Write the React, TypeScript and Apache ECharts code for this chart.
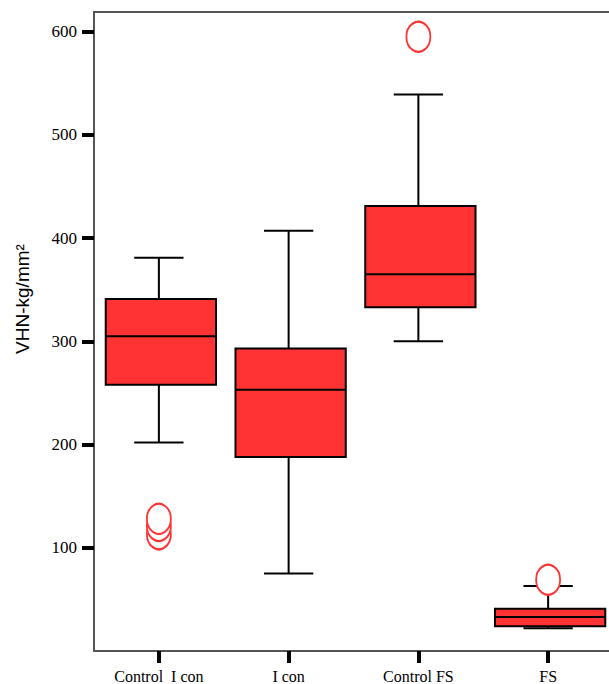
import React, { useEffect, useRef } from "react";
import * as echarts from "echarts";

const categories = ["Control  I con", "I con", "Control FS", "FS"];
const whiskerLow = [202, 75, 300, 22];
const q1 = [258, 188, 333, 24];
const median = [305, 253, 365, 33];
const q3 = [341, 293, 431, 41];
const whiskerHigh = [381, 407, 539, 63];
const outliers: [number, number][] = [
  [0, 113],
  [0, 121],
  [0, 128],
  [2, 595],
  [3, 69],
];
const yTicks = [100, 200, 300, 400, 500, 600];

export default function App() {
  const ref = useRef<HTMLDivElement>(null);
  useEffect(() => {
    const chart = echarts.init(ref.current!, null, { renderer: "svg" });
    const boxData = categories.map((_, i) => [
      i,
      whiskerLow[i],
      q1[i],
      median[i],
      q3[i],
      whiskerHigh[i],
    ]);
    chart.setOption({
      animation: false,
      grid: {
        left: 94,
        top: 12,
        right: 27,
        bottom: 32,
        show: false,
      },
      xAxis: [
        {
          type: "category",
          data: categories,
          boundaryGap: true,
          axisLine: { show: true, lineStyle: { color: "#555", width: 2 } },
          axisTick: {
            show: true,
            alignWithLabel: true,
            length: 12,
            lineStyle: { color: "#000", width: 4 },
          },
          axisLabel: {
            fontFamily: "Liberation Serif",
            fontSize: 16,
            color: "#000",
            margin: 17,
            interval: 0,
          },
          splitLine: { show: false },
        },
        {
          type: "category",
          data: categories,
          position: "top",
          axisLine: { show: true, lineStyle: { color: "#555", width: 2 } },
          axisTick: { show: false },
          axisLabel: { show: false },
          splitLine: { show: false },
        },
      ],
      yAxis: {
        type: "value",
        min: 0,
        max: 619,
        interval: 100,
        axisLine: { show: true, lineStyle: { color: "#555", width: 2 } },
        axisTick: { show: true, length: 12, lineStyle: { color: "#000", width: 4 } },
        axisLabel: {
          fontFamily: "Liberation Serif",
          fontSize: 17,
          color: "#000",
          margin: 17,
          showMinLabel: false,
          showMaxLabel: false,
          formatter: (v: number) => (yTicks.includes(v) ? String(v) : ""),
        },
        splitLine: { show: false },
      },
      graphic: [
        {
          type: "text",
          x: 22,
          y: 299,
          rotation: Math.PI / 2,
          style: {
            text: "VHN-kg/mm²",
            fontFamily: "Liberation Sans",
            fontSize: 19,
            fill: "#000",
            align: "center",
            verticalAlign: "middle",
          },
        },
      ],
      series: [
        {
          type: "custom",
          data: boxData,
          encode: { x: 0, y: [1, 2, 3, 4, 5] },
          renderItem: (params: any, api: any) => {
            const i = api.value(0);
            const band = api.size([1, 0])[0];
            const half = (band * 0.85) / 2;
            const cap = (band * 0.38) / 2;
            const pLow = api.coord([i, api.value(1)]);
            const pQ1 = api.coord([i, api.value(2)]);
            const pMed = api.coord([i, api.value(3)]);
            const pQ3 = api.coord([i, api.value(4)]);
            const pHigh = api.coord([i, api.value(5)]);
            const x = pMed[0];
            const bx = x + 2;
            const lineStyle = { stroke: "#000", lineWidth: 2 };
            return {
              type: "group",
              children: [
                {
                  type: "line",
                  shape: { x1: x, y1: pHigh[1], x2: x, y2: pQ3[1] },
                  style: lineStyle,
                },
                {
                  type: "line",
                  shape: { x1: x, y1: pQ1[1], x2: x, y2: pLow[1] },
                  style: lineStyle,
                },
                {
                  type: "line",
                  shape: { x1: x - cap, y1: pHigh[1], x2: x + cap, y2: pHigh[1] },
                  style: lineStyle,
                },
                {
                  type: "line",
                  shape: { x1: x - cap, y1: pLow[1], x2: x + cap, y2: pLow[1] },
                  style: lineStyle,
                },
                {
                  type: "rect",
                  shape: {
                    x: bx - half,
                    y: pQ3[1],
                    width: half * 2,
                    height: pQ1[1] - pQ3[1],
                  },
                  style: { fill: "#ff3333", stroke: "#000", lineWidth: 2 },
                },
                {
                  type: "line",
                  shape: { x1: bx - half, y1: pMed[1], x2: bx + half, y2: pMed[1] },
                  style: lineStyle,
                },
              ],
            };
          },
          z: 2,
        },
        {
          type: "scatter",
          data: outliers,
          symbol: "emptyCircle",
          symbolSize: [24, 30],
          itemStyle: {
            color: "#ff3333",
            borderColor: "#ff3333",
            borderWidth: 3.5,
            opacity: 1,
          },
          z: 3,
        },
      ],
    });
    return () => chart.dispose();
  }, []);
  return (
    <div
      ref={ref}
      style={{ position: "fixed", left: 0, top: 0, width: 640, height: 684, background: "#fff" }}
    />
  );
}
